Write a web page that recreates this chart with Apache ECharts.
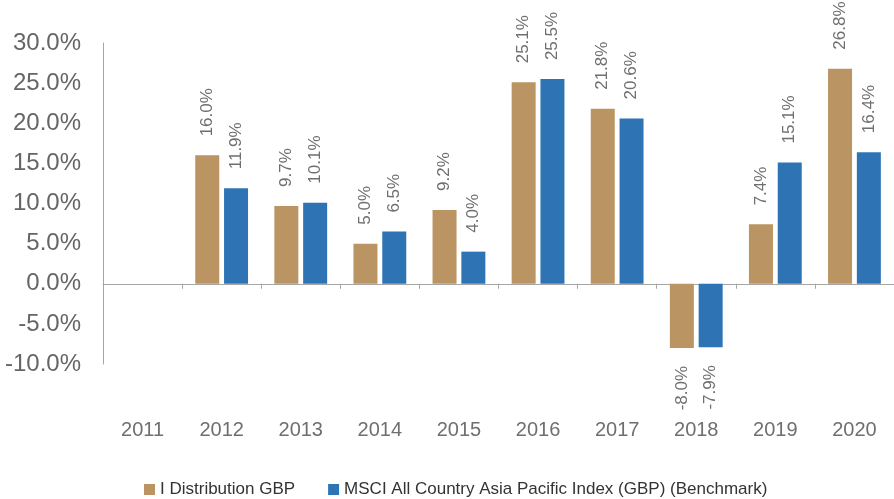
<!DOCTYPE html>
<html>
<head>
<meta charset="utf-8">
<script src="https://cdn.jsdelivr.net/npm/echarts@6/dist/echarts.min.js"></script>
<style>
  html, body { margin: 0; padding: 0; background: #fff; }
  #chart { width: 894px; height: 499px; }
</style>
</head>
<body>
<div id="chart"></div>
<script>
// 数据
var years = ["2011", "2012", "2013", "2014", "2015", "2016", "2017", "2018", "2019", "2020"];
var fundValues = [null, 16.0, 9.7, 5.0, 9.2, 25.1, 21.8, -8.0, 7.4, 26.8];
var benchValues = [null, 11.9, 10.1, 6.5, 4.0, 25.5, 20.6, -7.9, 15.1, 16.4];
var seriesNames = ["I Distribution GBP", "MSCI All Country Asia Pacific Index (GBP) (Benchmark)"];
var yTicks = { min: -10, max: 30, step: 5 };

var myChart = echarts.init(document.getElementById("chart"));

// 正负值的标签位置不同
function withLabels(values) {
  return values.map(function (v) {
    if (v === null) return null;
    if (v < 0) {
      return {
        value: v,
        label: { position: "bottom", align: "right", distance: 18 }
      };
    }
    return v;
  });
}

var labelStyle = {
  show: true,
  position: "top",
  rotate: 90,
  align: "left",
  verticalAlign: "middle",
  distance: 19,
  color: "#6f6f6f",
  fontSize: 17,
  fontFamily: "Liberation Sans, Arial, sans-serif",
  formatter: function (p) { return p.value.toFixed(1) + "%"; }
};

var option = {
  animation: false,
  color: ["#BA9462", "#2E74B5"],
  grid: {
    left: 103,
    top: 43,
    width: 798,
    height: 321
  },
  legend: {
    left: 139,
    top: 476,
    icon: "rect",
    itemWidth: 11,
    itemHeight: 11,
    itemGap: 33,
    textStyle: {
      color: "#333",
      fontSize: 17,
      fontFamily: "Liberation Sans, Arial, sans-serif"
    },
    data: seriesNames
  },
  xAxis: [
    {
      // 零线和刻度
      type: "category",
      data: years,
      axisLine: { onZero: true, lineStyle: { color: "#a6a6a6", width: 1 } },
      axisTick: { show: true, length: 5, lineStyle: { color: "#a6a6a6" } },
      axisLabel: { show: false }
    },
    {
      // 底部年份标签
      type: "category",
      data: years,
      position: "bottom",
      axisLine: { show: false, onZero: false },
      axisTick: { show: false },
      axisLabel: {
        margin: 56,
        color: "#6f6f6f",
        fontSize: 20,
        fontFamily: "Liberation Sans, Arial, sans-serif"
      }
    }
  ],
  yAxis: {
    type: "value",
    min: yTicks.min,
    max: yTicks.max,
    interval: yTicks.step,
    axisLine: { show: true, lineStyle: { color: "#a6a6a6" } },
    axisTick: { show: false },
    splitLine: { show: false },
    axisLabel: {
      margin: 22,
      color: "#666",
      fontSize: 24,
      fontFamily: "Liberation Sans, Arial, sans-serif",
      formatter: function (v) { return v.toFixed(1) + "%"; }
    }
  },
  series: [
    {
      name: seriesNames[0],
      type: "bar",
      barWidth: 24,
      barGap: "20%",
      label: labelStyle,
      data: withLabels(fundValues)
    },
    {
      name: seriesNames[1],
      type: "bar",
      barWidth: 24,
      barGap: "20%",
      label: labelStyle,
      data: withLabels(benchValues)
    }
  ]
};

myChart.setOption(option);
</script>
</body>
</html>
